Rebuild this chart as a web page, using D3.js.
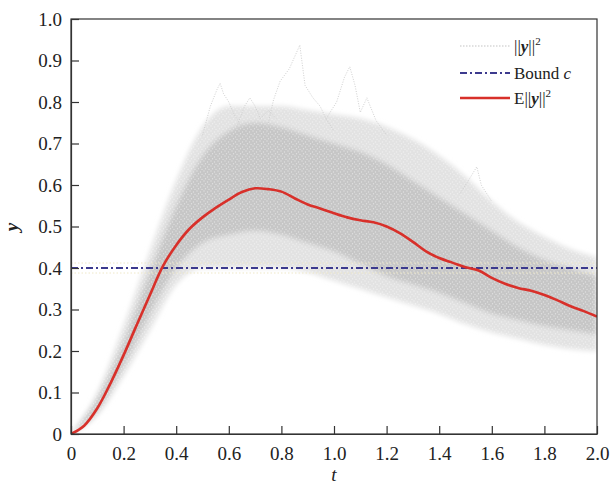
<!DOCTYPE html>
<html>
<head>
<meta charset="utf-8">
<script src="https://cdn.jsdelivr.net/npm/d3@7"></script>
<style>
    body { margin: 0; background: #fff; }
    svg text { font-family: "Liberation Serif", "Times New Roman", serif; fill: #222; }
</style>
</head>
<body>
<svg id="chart" width="614" height="484"></svg>
<script>
// time grid for the mean curve and the sample band
var tMean = [0, 0.05, 0.1, 0.15, 0.2, 0.25, 0.3, 0.35, 0.4, 0.45, 0.5, 0.55, 0.6, 0.65, 0.7, 0.75, 0.8, 0.85, 0.9, 0.95,
    1.0, 1.05, 1.1, 1.15, 1.2, 1.25, 1.3, 1.35, 1.4, 1.45, 1.5, 1.55, 1.6, 1.65, 1.7, 1.75, 1.8, 1.85, 1.9, 1.95, 2.0];
var meanY = [0, 0.02, 0.062, 0.122, 0.19, 0.263, 0.335, 0.405, 0.455, 0.494, 0.522, 0.545, 0.565, 0.583, 0.592, 0.59, 0.584, 0.568, 0.553, 0.543,
    0.532, 0.522, 0.515, 0.51, 0.5, 0.484, 0.463, 0.44, 0.424, 0.413, 0.402, 0.394, 0.376, 0.362, 0.352, 0.345, 0.335, 0.322, 0.308, 0.296, 0.283];

var tBand = [0, 0.1, 0.2, 0.3, 0.4, 0.5, 0.6, 0.7, 0.8, 0.9, 1.0, 1.1, 1.2, 1.3, 1.4, 1.5, 1.6, 1.7, 1.8, 1.9, 2.0];
// outer (sparse) envelope of the ||y||^2 sample paths
var outerHi = [0, 0.1, 0.26, 0.44, 0.61, 0.74, 0.79, 0.79, 0.79, 0.78, 0.77, 0.76, 0.74, 0.71, 0.67, 0.62, 0.56, 0.51, 0.475, 0.445, 0.425];
var outerLo = [0, 0.045, 0.14, 0.25, 0.36, 0.4, 0.4, 0.4, 0.4, 0.39, 0.37, 0.35, 0.33, 0.31, 0.29, 0.265, 0.245, 0.23, 0.215, 0.205, 0.2];
// dense core of the sample paths
var coreHi = [0, 0.085, 0.22, 0.39, 0.55, 0.67, 0.73, 0.75, 0.74, 0.72, 0.7, 0.68, 0.65, 0.61, 0.57, 0.53, 0.49, 0.45, 0.42, 0.4, 0.38];
var coreLo = [0, 0.055, 0.165, 0.29, 0.4, 0.46, 0.48, 0.49, 0.48, 0.46, 0.44, 0.41, 0.38, 0.36, 0.34, 0.315, 0.29, 0.275, 0.26, 0.25, 0.24];

// single sample paths sticking out of the band
var spikes = [
    { t: [0.5, 0.53, 0.555, 0.567, 0.58, 0.6, 0.62, 0.65], y: [0.72, 0.79, 0.83, 0.845, 0.82, 0.8, 0.77, 0.74] },
    { t: [0.63, 0.66, 0.68, 0.7, 0.72, 0.75, 0.78], y: [0.74, 0.79, 0.81, 0.79, 0.76, 0.78, 0.76] },
    { t: [0.74, 0.77, 0.795, 0.83, 0.87, 0.89, 0.92, 0.947, 0.972, 1.0], y: [0.72, 0.805, 0.85, 0.88, 0.937, 0.84, 0.81, 0.79, 0.757, 0.73] },
    { t: [0.97, 1.01, 1.04, 1.06, 1.08, 1.1, 1.125, 1.16, 1.2], y: [0.76, 0.8, 0.86, 0.885, 0.84, 0.775, 0.81, 0.755, 0.72] },
    { t: [1.48, 1.52, 1.543, 1.56, 1.6], y: [0.58, 0.62, 0.644, 0.6, 0.56] }
];

var bound = [0.4];

var xTicks = [0, 0.2, 0.4, 0.6, 0.8, 1.0, 1.2, 1.4, 1.6, 1.8, 2.0];
var yTicks = [0, 0.1, 0.2, 0.3, 0.4, 0.5, 0.6, 0.7, 0.8, 0.9, 1.0];

var svg = d3.select("#chart");

var x = d3.scaleLinear().domain([0, 2]).range([71, 597]);
var y = d3.scaleLinear().domain([0, 1]).range([434, 19]);

var defs = svg.append("defs");
defs.append("clipPath").attr("id", "plotclip")
    .append("rect").attr("x", 71).attr("y", 19).attr("width", 526).attr("height", 415);
defs.append("filter").attr("id", "soft")
    .attr("x", "-5%").attr("y", "-5%").attr("width", "110%").attr("height", "110%")
    .append("feGaussianBlur").attr("stdDeviation", 2.5);

// grain pattern laid over the band so it reads as many dotted paths
var grain = defs.append("pattern").attr("id", "grain")
    .attr("width", 7).attr("height", 5).attr("patternUnits", "userSpaceOnUse");
[[1, 1], [4.5, 2], [2.5, 3.8], [6, 4.4]].forEach(function (p) {
    grain.append("circle").attr("cx", p[0]).attr("cy", p[1]).attr("r", 0.7).attr("fill", "#fff").attr("opacity", 0.45);
});

var plot = svg.append("g").attr("clip-path", "url(#plotclip)");

function bandArea(hi, lo) {
    return d3.area()
        .x(function (d, i) { return x(tBand[i]); })
        .y0(function (d, i) { return y(lo[i]); })
        .y1(function (d, i) { return y(hi[i]); })
        .curve(d3.curveMonotoneX)(tBand);
}

var band = plot.append("g").attr("filter", "url(#soft)");
band.append("path").attr("d", bandArea(outerHi, outerLo)).attr("fill", "#e2e2e2");
band.append("path").attr("d", bandArea(coreHi, coreLo)).attr("fill", "#c6c6c6");
plot.append("path").attr("d", bandArea(outerHi, outerLo)).attr("fill", "url(#grain)");

var spikeLine = d3.line()
    .x(function (d) { return x(d[0]); })
    .y(function (d) { return y(d[1]); })
    .curve(d3.curveLinear);

plot.selectAll(".spike")
    .data(spikes)
    .enter()
    .append("path")
    .attr("class", "spike")
    .attr("d", function (s) { return spikeLine(s.t.map(function (t, i) { return [t, s.y[i]]; })); })
    .attr("fill", "none")
    .attr("stroke", "#d0d0d0")
    .attr("stroke-width", 1)
    .attr("stroke-dasharray", "1 1.5");

// bound line with its faint halo
plot.selectAll(".halo")
    .data([-5, 5])
    .enter()
    .append("line")
    .attr("x1", x(0)).attr("x2", x(2))
    .attr("y1", function (d) { return y(bound[0]) + d; })
    .attr("y2", function (d) { return y(bound[0]) + d; })
    .attr("stroke", "#efe8c8")
    .attr("stroke-width", 1)
    .attr("stroke-dasharray", "1.5 2");

plot.selectAll(".bound")
    .data(bound)
    .enter()
    .append("line")
    .attr("class", "bound")
    .attr("x1", x(0)).attr("x2", x(2))
    .attr("y1", function (d) { return y(d); })
    .attr("y2", function (d) { return y(d); })
    .attr("stroke", "#3c3a8e")
    .attr("stroke-width", 2)
    .attr("stroke-dasharray", "7 3 2 3");

var meanLine = d3.line()
    .x(function (d, i) { return x(tMean[i]); })
    .y(function (d) { return y(d); })
    .curve(d3.curveCatmullRom.alpha(0.5));

plot.append("path")
    .attr("d", meanLine(meanY))
    .attr("fill", "none")
    .attr("stroke", "#d8302a")
    .attr("stroke-width", 2.6);

// frame and axes (ticks point inward)
svg.append("rect")
    .attr("x", 71).attr("y", 19).attr("width", 526).attr("height", 415)
    .attr("fill", "none").attr("stroke", "#333").attr("stroke-width", 1.2);

var fmt = function (d) { return d === 0 ? "0" : d3.format(".1f")(d); };
var xAxis = svg.append("g")
    .attr("transform", "translate(0,434)")
    .call(d3.axisBottom(x).tickValues(xTicks).tickSizeInner(-8).tickSizeOuter(0).tickPadding(13).tickFormat(fmt));
var yAxis = svg.append("g")
    .attr("transform", "translate(71,0)")
    .call(d3.axisLeft(y).tickValues(yTicks).tickSizeInner(-8).tickSizeOuter(0).tickPadding(9).tickFormat(fmt));

[xAxis, yAxis].forEach(function (a) {
    a.attr("font-family", null).attr("font-size", null);
    a.select(".domain").attr("stroke", "#333").attr("stroke-width", 1.2);
    a.selectAll(".tick line").attr("stroke", "#333").attr("stroke-width", 1.2);
    a.selectAll(".tick text")
        .style("font-family", "'Liberation Serif', serif")
        .style("font-size", "19px")
        .attr("fill", "#222");
});

svg.append("text")
    .attr("x", 334).attr("y", 481)
    .attr("text-anchor", "middle")
    .style("font-size", "19px")
    .attr("font-style", "italic")
    .text("t");

svg.append("text")
    .attr("transform", "translate(18,227) rotate(-90)")
    .attr("text-anchor", "middle")
    .style("font-size", "19px")
    .attr("font-style", "italic")
    .attr("font-weight", "bold")
    .text("y");

// legend
var legend = svg.append("g").attr("class", "legend");
var rows = [46, 73, 98];

legend.append("line")
    .attr("x1", 460).attr("x2", 510).attr("y1", rows[0]).attr("y2", rows[0])
    .attr("stroke", "#c4c4c4").attr("stroke-width", 1.2).attr("stroke-dasharray", "1.5 1.5");
legend.append("line")
    .attr("x1", 460).attr("x2", 510).attr("y1", rows[1]).attr("y2", rows[1])
    .attr("stroke", "#3c3a8e").attr("stroke-width", 2).attr("stroke-dasharray", "7 3 2 3");
legend.append("line")
    .attr("x1", 460).attr("x2", 510).attr("y1", rows[2]).attr("y2", rows[2])
    .attr("stroke", "#d8302a").attr("stroke-width", 2.6);

function normText(g, xPos, yPos, prefix) {
    var t = g.append("text").attr("x", xPos).attr("y", yPos).style("font-size", "17px");
    if (prefix) t.append("tspan").text(prefix);
    t.append("tspan").text("||");
    t.append("tspan").attr("font-weight", "bold").attr("font-style", "italic").text("y");
    t.append("tspan").text("||");
    t.append("tspan").style("font-size", "11px").attr("dy", -7).text("2");
}

normText(legend, 514, rows[0] + 6, "");
var bt = legend.append("text").attr("x", 514).attr("y", rows[1] + 6).style("font-size", "17px");
bt.append("tspan").text("Bound ");
bt.append("tspan").attr("font-style", "italic").text("c");
normText(legend, 514, rows[2] + 6, "E");
</script>
</body>
</html>
